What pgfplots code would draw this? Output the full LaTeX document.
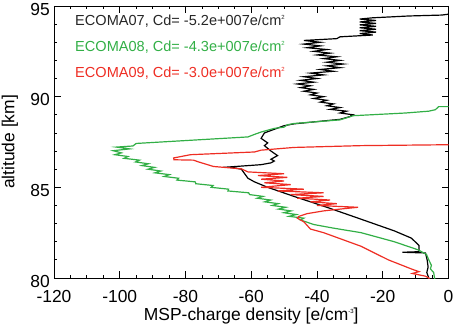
\documentclass[border=0pt]{standalone}
\usepackage{pgfplots}
\pgfplotsset{compat=1.18}
\usepackage{fontspec}
\setmainfont{Liberation Sans}
\definecolor{cgreen}{RGB}{50,175,70}
\definecolor{cred}{RGB}{238,45,35}
\newcommand{\mysup}[1]{\raisebox{0.75ex}{\fontsize{6}{6}\selectfont #1}}
\begin{document}
\begin{tikzpicture}
\useasboundingbox (-54bp,-46bp) rectangle (403bp,278bp);
\begin{axis}[
  scale only axis,
  width=394.5bp, height=272bp,
  xmin=-120, xmax=0, ymin=80, ymax=95,
  xtick={-120,-100,...,0},
  ytick={80,85,90,95},
  minor x tick num=3,
  minor y tick num=4,
  tick align=inside,
  major tick length=7bp,
  minor tick length=3.5bp,
  tick style={black, line width=0.8pt},
  axis line style={black, line width=0.9pt},
  /pgf/number format/assume math mode=true,
  /pgf/number format/1000 sep={},
  ticklabel style={font=\fontsize{17.5}{20}\selectfont},
  yticklabel style={inner sep=0pt, xshift=-4bp, yshift=-3bp},
  xticklabel style={inner sep=0pt, yshift=-12bp},
  xlabel={MSP-charge density [e/cm\mysup{-3}]},
  ylabel={altitude [km]},
  label style={font=\fontsize{17.5}{20}\selectfont},
  xlabel style={at={(axis description cs:0.5,-0.14)}, anchor=center},
  ylabel style={at={(axis description cs:-0.112,0.5)}, anchor=center},
  clip=true,
]
% ECOMA07 (black)
\addplot[black, line width=1.2pt] coordinates {
(0,94.55) (-2,94.5) (-12,94.45) (-23,94.35)
(-27,94.28) (-22,94.2) (-27,94.12) (-22,94.04) (-27,93.96) (-22,93.88) (-27,93.8) (-22,93.72) (-27,93.64) (-22,93.56) (-27,93.48) (-23,93.4)
(-33,93.3) (-34,93.2) (-44,93.1)
(-39,93.0) (-44,92.9) (-39,92.8) (-43,92.7) (-37,92.6) (-41,92.5) (-36,92.4) (-40,92.3) (-34,92.2) (-38,92.1) (-33,92.0) (-37,91.9) (-32,91.8) (-37,91.7) (-33,91.6) (-39,91.5) (-35,91.4) (-42,91.3) (-38,91.2) (-44,91.1) (-40,91.0) (-45,90.9) (-41,90.8) (-46,90.7) (-42,90.6) (-45,90.5) (-41,90.4) (-44,90.3) (-40,90.2) (-42,90.1) (-38,90.0) (-41,89.9) (-37,89.8) (-39,89.7) (-35,89.6) (-37,89.5) (-33,89.4) (-36,89.3) (-31,89.2) (-33,89.1) (-29,89.0) (-30,88.9)
(-33,88.75) (-47,88.5) (-50,88.4) (-53,88.2) (-56,88.0) (-57,87.7) (-55,87.45) (-56,87.3) (-54,87.0) (-52,86.75) (-54,86.55) (-53,86.45) (-54,86.35) (-57,86.25) (-67,86.12) (-63,86.0) (-62,85.75) (-61,85.5) (-59,85.3) (-57,85.15) (-55,85.0)
(-47,84.5) (-37,83.9) (-27.5,83.3) (-16.5,82.6) (-11.3,82.2) (-9,81.8) (-9,81.45) (-14,81.42) (-7,81.38) (-6.5,81.0) (-6.2,80.6) (-6.6,80.3) (-6,80.0) (-6,79.8)
};
% ECOMA08 (green)
\addplot[cgreen, line width=1.2pt] coordinates {
(0,89.45) (-3,89.45) (-4,89.28) (-6,89.2) (-13,89.1) (-29,88.95) (-33,88.72) (-47,88.52) (-49,88.45) (-50,88.32) (-53,88.25) (-57,88.05) (-59,87.92) (-61,87.78) (-95,87.42) (-96,87.28) (-101,87.22) (-97,87.12) (-102,87.02)
(-99.5,86.9) (-101.5,86.8) (-97.5,86.7) (-98.7,86.6) (-94,86.5) (-95.2,86.4) (-91.3,86.3) (-93.3,86.2) (-89.4,86.1) (-91.4,86.0) (-87.5,85.9) (-89.3,85.8) (-84.9,85.7) (-86.5,85.6) (-82.1,85.5) (-82.6,85.4) (-77,85.3) (-76.9,85.2) (-71.6,85.1) (-72.2,85.0) (-66.9,84.9) (-67.1,84.8) (-60.8,84.7) (-60.5,84.6) (-56.4,84.5) (-58.2,84.4) (-54.1,84.3) (-55.9,84.2) (-51.8,84.1) (-53.6,84.0) (-49.5,83.9) (-51.7,83.8) (-47.9,83.7) (-50.1,83.6) (-46.3,83.5) (-48.5,83.4) (-44,83.3) (-45,83.2)
(-41,82.95) (-35,82.75) (-26.6,82.5) (-16.5,82.0) (-9.2,81.55) (-6.7,81.3) (-6,81.0) (-5.2,80.7) (-5.5,80.5) (-4.5,80.3) (-4.3,80.05) (-4,79.8)
};
% ECOMA09 (red)
\addplot[cred, line width=1.2pt] coordinates {
(0,87.35) (-26.6,87.3) (-47,87.2) (-57,87.05) (-59,86.95) (-78.5,86.8) (-83.6,86.62) (-83.5,86.52) (-77.6,86.5) (-76,86.4) (-71.5,86.15) (-63,86.02) (-61,85.85)
(-50,85.75) (-58,85.65) (-49,85.55) (-57,85.45) (-50,85.35) (-56,85.25) (-48,85.15) (-57,85.0) (-44,84.9) (-52,84.8) (-38,84.7) (-48,84.6) (-38,84.5) (-46,84.4) (-36,84.3) (-42,84.2) (-34,84.1) (-40,84.0) (-27.5,83.9)
(-33,83.8) (-38,83.7) (-43,83.55) (-45.5,83.4) (-46,83.3) (-44,83.1) (-43,82.9) (-42,82.7) (-38,82.5) (-26.6,81.75) (-18.3,81.0) (-11.3,80.5) (-9,80.35) (-11,80.25) (-7,80.1) (-6,80.0) (-5.5,79.8)
};
\node[anchor=west, inner sep=0pt, font=\fontsize{14.6}{17}\selectfont, text=black!85] at (axis cs:-113.6,94.19) {ECOMA07, Cd= -5.2e+007e/cm\mysup{2}};
\node[anchor=west, inner sep=0pt, font=\fontsize{14.6}{17}\selectfont, text=cgreen] at (axis cs:-113.6,92.72) {ECOMA08, Cd= -4.3e+007e/cm\mysup{2}};
\node[anchor=west, inner sep=0pt, font=\fontsize{14.6}{17}\selectfont, text=cred] at (axis cs:-113.6,91.32) {ECOMA09, Cd= -3.0e+007e/cm\mysup{2}};
\end{axis}
\end{tikzpicture}
\end{document}
